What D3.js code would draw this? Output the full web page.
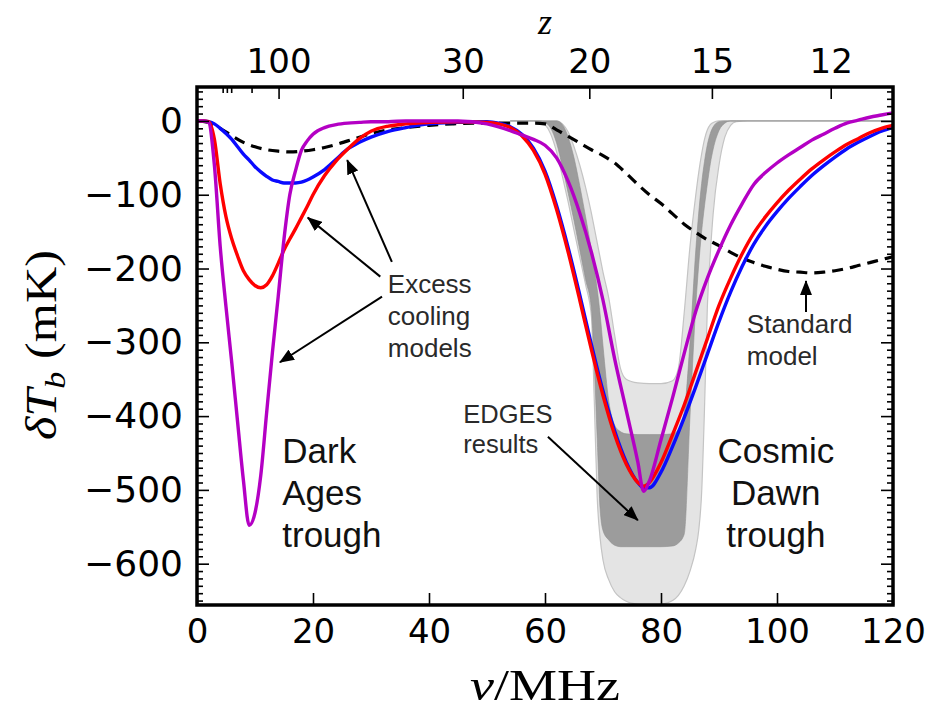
<!DOCTYPE html>
<html>
<head>
<meta charset="utf-8">
<script src="https://cdn.jsdelivr.net/npm/d3@7"></script>
<style>
body { margin: 0; background: #fff; }
svg { display: block; }
</style>
</head>
<body>
<svg id="chart"></svg>
<script>
// frequency grid (MHz) for the three excess cooling curves
var nu = [0,1,2,3,4,5,6,7,8,9,10,11,12,13,14,15,16,17,18,19,20,22,24,26,28,30,33,36,40,45,50,
          52,54,56,58,60,62,64,66,68,70,72,74,76,77,78,80,82,84,86,88,90,92,94,96,98,100,
          102,104,106,108,110,112,114,116,118,120];

// brightness temperature (mK)
var blueT = [0,0,-1,-4,-10,-17,-25,-35,-45,-53,-62,-69,-75,-80,-82,-84,-84,-84,-83,-80,-76,
             -66,-52,-38,-29,-22,-14,-9,-4,-2,-1,
             -3,-8,-18,-37,-68,-115,-172,-236,-303,-366,-420,-462,-490,-497,-497,
             -476,-441,-402,-360,-316,-272,-232,-197,-167,-143,-123,-105,-89,-74,-61,-49,-38,-29,-21,-14,-9];
var redT = [0,0,-1,-25,-85,-130,-160,-183,-203,-215,-223,-226,-222,-210,-193,-175,-160,-146,-131,-116,-100,
            -74,-54,-38,-24,-14,-7,-4,-2,-1,-2,
            -4,-9,-20,-40,-72,-120,-178,-243,-310,-372,-425,-465,-490,-495,-490,
            -463,-425,-385,-340,-295,-250,-213,-180,-152,-130,-111,-94,-79,-65,-53,-42,-32,-24,-16,-10,-6];
var magentaT = [0,0,-2,-60,-170,-252,-328,-408,-487,-548,-531,-480,-396,-314,-238,-160,-100,-67,-40,-27,-18,
                -9,-5,-3,-2,-1,-1,0,0,0,-4,
                -8,-13,-19,-25,-33,-50,-82,-125,-178,-243,-322,-392,-462,-502,-488,
                -432,-375,-315,-258,-213,-175,-141,-112,-86,-70,-57,-46,-36,-26,-18,-10,-3,1,5,8,11];

// standard model (dashed)
var stdNu = [0,2,4,6,8,10,12,14,16,18,20,22,24,26,28,30,33,36,40,44,48,52,56,58,
             60,62,64,66,68,70,72,74,76,78,80,82,84,86,88,90,92,94,96,98,100,
             102,104,106,108,110,112,114,116,118,120];
var stdT = [0,-2,-10,-20,-29,-35,-39,-41,-42,-41,-39,-36,-32,-27,-22,-17,-12,-9,-6,-4,-3,-3,-3,-3,
            -4,-12,-21,-30,-39,-47,-57,-71,-86,-100,-112,-126,-140,-151,-161,-169,-178,-186,-192,-197,-201,
            -204,-205,-206,-205,-203,-200,-196,-192,-188,-184];

// EDGES bands: outer (light) and inner (dark) envelopes
var bandNu = [54,58,59,60,61,62,63,64,65,66,67,68,68.5,69,69.5,70,71,72,73,74,
              76,78,80,82,83,84,85,86,86.5,87,87.5,88,88.5,89,90,91,92,93,95,120];
var lightLo = [0,0,-1,-5,-18,-42,-75,-110,-148,-185,-222,-265,-380,-510,-565,-595,-622,-638,-646,-651,
               -655,-656,-655,-650,-643,-630,-610,-580,-555,-505,-390,-250,-180,-125,-60,-22,-6,-1,0,0];
var lightHi = [0,0,0,0,0,0,-4,-15,-35,-60,-90,-125,-145,-165,-185,-205,-240,-290,-335,-350,
               -355,-356,-356,-352,-335,-260,-170,-100,-70,-45,-25,-12,-5,-2,0,0,0,0,0,0];
var darkLo = [0,0,0,-2,-10,-30,-62,-98,-135,-175,-215,-255,-330,-430,-525,-555,-568,-575,-577,-577,
              -577,-577,-577,-576,-572,-560,-400,-250,-195,-150,-115,-85,-58,-38,-13,-3,0,0,0,0];
var darkHi = [0,0,0,0,0,0,-5,-22,-50,-88,-130,-175,-200,-228,-262,-305,-380,-412,-421,-424,
              -425,-425,-425,-424,-418,-395,-300,-175,-125,-85,-55,-32,-17,-8,-1,0,0,0,0,0];

var xTicks = [0, 20, 40, 60, 80, 100, 120];
var yTicks = [0, -100, -200, -300, -400, -500, -600];
var zTicks = [100, 30, 20, 15, 12];
var zMinor = [320, 275, 240, 150];

var svgWidth = 935, svgHeight = 715;

var svg = d3.select('#chart')
    .attr("width", svgWidth)
    .attr("height", svgHeight)
    .attr("viewBox", [0, 0, svgWidth, svgHeight]);

var x = d3.scaleLinear().domain([0, 120]).range([197, 893]);
var y = d3.scaleLinear().domain([-656, 46]).range([605, 87]);

function zToNu(z) { return 1420.4 / (1 + z); }

var plot = svg.append("g");

svg.append("defs").append("clipPath").attr("id", "clip")
    .append("rect").attr("x", 197).attr("y", 87).attr("width", 696).attr("height", 518);
plot.attr("clip-path", "url(#clip)");

// bands
var bandArea = function(lo, hi) {
    return d3.area()
        .x(function(d, i) { return x(bandNu[i]); })
        .y0(function(d, i) { return y(lo[i]); })
        .y1(function(d, i) { return y(hi[i]); })
        .curve(d3.curveMonotoneX)(bandNu);
};
plot.append("path")
    .attr("d", bandArea(lightLo, lightHi))
    .attr("fill", "#e4e4e4")
    .attr("stroke", "#c4c4c4")
    .attr("stroke-width", 1.2);
plot.append("path")
    .attr("d", bandArea(darkLo, darkHi))
    .attr("fill", "#9c9c9c")
    .attr("stroke", "#8e8e8e")
    .attr("stroke-width", 0.6);

var lineOf = function(xs, ys) {
    return d3.line()
        .x(function(d, i) { return x(xs[i]); })
        .y(function(d, i) { return y(ys[i]); })
        .curve(d3.curveMonotoneX)(xs);
};

plot.append("path")
    .attr("d", lineOf(stdNu, stdT))
    .attr("fill", "none")
    .attr("stroke", "#000")
    .attr("stroke-width", 3.2)
    .attr("stroke-dasharray", "11,7")
    .attr("stroke-dashoffset", -6);

var series = [
    {vals: blueT, color: "#0a0aff"},
    {vals: redT, color: "#ff0000"},
    {vals: magentaT, color: "#b400c4"}
];
series.forEach(function(s) {
    plot.append("path")
        .attr("d", lineOf(nu, s.vals))
        .attr("fill", "none")
        .attr("stroke", s.color)
        .attr("stroke-width", 3.4)
        .attr("stroke-linejoin", "round");
});

// axes, ticks pointing inward
var tickFont = function(size) {
    return function(g) {
        g.select(".domain").remove();
        g.selectAll("text")
            .attr("font-family", "DejaVu Sans, sans-serif")
            .attr("font-size", size)
            .attr("fill", "#000");
        g.selectAll("line").attr("stroke", "#000").attr("stroke-width", 1.6);
    };
};

var yMinor = d3.range(-650, 41, 10).filter(function(v) { return v % 100 != 0; });

svg.append("g")
    .attr("transform", "translate(0,605)")
    .call(d3.axisBottom(x).tickValues(xTicks).tickSize(-12).tickPadding(14))
    .call(tickFont(34));

svg.append("g")
    .attr("transform", "translate(197,0)")
    .call(d3.axisLeft(y).tickValues(yTicks).tickSize(-12).tickPadding(14))
    .call(tickFont(36));
svg.append("g")
    .attr("transform", "translate(197,0)")
    .call(d3.axisLeft(y).tickValues(yMinor).tickSize(-6).tickFormat(""))
    .call(tickFont(36));
svg.append("g")
    .attr("transform", "translate(893,0)")
    .call(d3.axisRight(y).tickValues(yTicks).tickSize(-12).tickFormat(""))
    .call(tickFont(36));
svg.append("g")
    .attr("transform", "translate(893,0)")
    .call(d3.axisRight(y).tickValues(yMinor).tickSize(-6).tickFormat(""))
    .call(tickFont(36));

svg.append("g")
    .attr("transform", "translate(0,87)")
    .call(d3.axisTop(x).tickValues(zTicks.map(zToNu)).tickSize(-12).tickPadding(14)
        .tickFormat(function(d, i) { return zTicks[i]; }))
    .call(tickFont(34));
svg.append("g")
    .attr("transform", "translate(0,87)")
    .call(d3.axisTop(x).tickValues(zMinor.map(zToNu)).tickSize(-6).tickFormat(""))
    .call(tickFont(34));

// frame
svg.append("rect")
    .attr("x", 197).attr("y", 87).attr("width", 696).attr("height", 518)
    .attr("fill", "none").attr("stroke", "#000").attr("stroke-width", 3.5);

// axis titles
var serif = "Liberation Serif, DejaVu Serif, serif";
var xl = svg.append("text")
    .attr("x", 545).attr("y", 700)
    .attr("text-anchor", "middle")
    .attr("font-family", serif).attr("font-size", 44)
    .attr("textLength", 150).attr("lengthAdjust", "spacingAndGlyphs");
xl.append("tspan").attr("font-style", "italic").text("ν");
xl.append("tspan").text("/MHz");

var yl = svg.append("text")
    .attr("transform", "translate(56,345) rotate(-90)")
    .attr("text-anchor", "middle")
    .attr("font-family", serif).attr("font-size", 44)
    .attr("textLength", 190).attr("lengthAdjust", "spacingAndGlyphs");
yl.append("tspan").attr("font-style", "italic").text("δT");
yl.append("tspan").attr("font-style", "italic").attr("font-size", 30).attr("dy", 9).text("b");
yl.append("tspan").attr("dy", -9).text(" (mK)");

svg.append("text")
    .attr("x", 545).attr("y", 34)
    .attr("text-anchor", "middle")
    .attr("font-family", serif).attr("font-style", "italic").attr("font-size", 36)
    .text("z");

// annotations
var marker = svg.select("defs").append("marker")
    .attr("id", "head")
    .attr("markerUnits", "userSpaceOnUse")
    .attr("markerWidth", 16).attr("markerHeight", 12)
    .attr("refX", 14).attr("refY", 6)
    .attr("orient", "auto");
marker.append("path").attr("d", "M0,0 L15,6 L0,12 Z").attr("fill", "#000");

var arrows = [
    [[33.6, -191], [25.9, -53]],
    [[31.6, -211], [19.1, -131]],
    [[31.9, -238], [14.3, -327]],
    [[60.5, -428], [76.0, -541]],
    [[105, -259], [105, -217]]
];
arrows.forEach(function(a) {
    svg.append("line")
        .attr("x1", x(a[0][0])).attr("y1", y(a[0][1]))
        .attr("x2", x(a[1][0])).attr("y2", y(a[1][1]))
        .attr("stroke", "#000").attr("stroke-width", 2)
        .attr("marker-end", "url(#head)");
});

var note = function(nx, ty, lines, size, gap, anchor, color) {
    var t = svg.append("text")
        .attr("x", x(nx)).attr("y", y(ty))
        .attr("text-anchor", anchor)
        .attr("font-family", "Liberation Sans, Arial, sans-serif")
        .attr("font-size", size)
        .attr("fill", color);
    lines.forEach(function(l, i) {
        t.append("tspan").attr("x", x(nx)).attr("dy", i == 0 ? 0 : gap).text(l);
    });
};
note(32.9, -233, ["Excess", "cooling", "models"], 26, 32, "start", "#2a2a2a");
note(14.7, -463, ["Dark", "Ages", "trough"], 35, 42, "start", "#111");
note(99.8, -463, ["Cosmic", "Dawn", "trough"], 35, 42, "middle", "#111");
note(45.9, -409, ["EDGES", "results"], 25.5, 30, "start", "#2a2a2a");
note(94.8, -287, ["Standard", "model"], 26, 32, "start", "#2a2a2a");
</script>
</body>
</html>
